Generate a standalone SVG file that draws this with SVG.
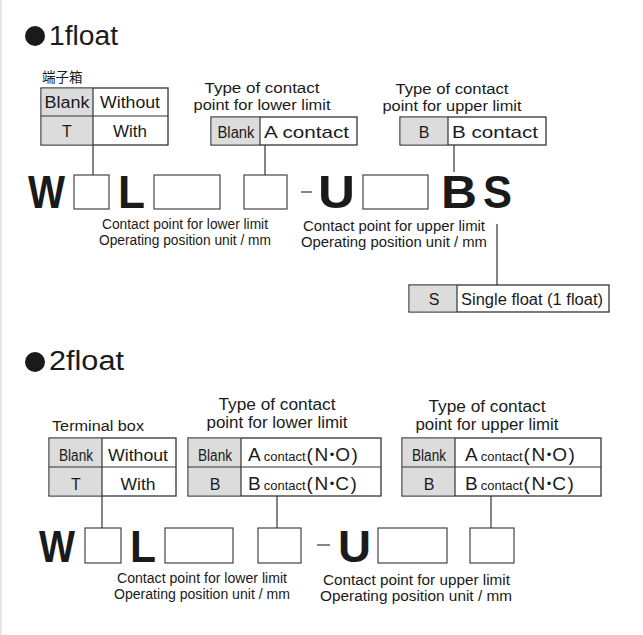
<svg xmlns="http://www.w3.org/2000/svg" width="643" height="635" viewBox="0 0 643 635">
<style>
text{font-family:"Liberation Sans",Arial,"Noto Sans CJK JP",sans-serif;fill:#1a1a1a}
.tb{fill:#fff;stroke:#333;stroke-width:1.3}
.gr{fill:#dcdcdc;stroke:none}
.ln{stroke:#333;stroke-width:1.2;fill:none}
.bx{fill:#fff;stroke:#444;stroke-width:1.2}
.title{font-size:27px}
.hd{font-size:15.5px;text-anchor:middle}
.hd2{font-size:16px;text-anchor:middle}
.cc{font-size:16px;text-anchor:middle}
.code{font-size:46px;font-weight:bold;fill:#1a1a1a}
.code2{font-size:45px;font-weight:bold;fill:#1a1a1a}
.note{font-size:14px}
.ct{font-size:19px}
.ct .s{font-size:13px}
.ct .p{letter-spacing:1.5px}
.ct .d{font-size:13px}
</style>
<line x1="1" y1="0" x2="1" y2="635" stroke="#e6e6e6" stroke-width="2"/>

<g id="title1">
<circle cx="35" cy="36" r="10" fill="#1a1a1a"/>
<text class="title" x="49" y="45" textLength="69" lengthAdjust="spacingAndGlyphs">1float</text>
</g>

<g id="terminal1">
<text x="42" y="82" font-size="13.5">端子箱</text>
<rect class="tb" x="41" y="88" width="127" height="57"/>
<rect class="gr" x="41.7" y="88.7" width="51.3" height="55.6"/>
<line class="ln" x1="93" y1="88" x2="93" y2="145"/>
<line class="ln" x1="41" y1="116" x2="168" y2="116"/>
<text class="cc" x="67" y="108" textLength="45" lengthAdjust="spacingAndGlyphs">Blank</text>
<text class="cc" x="130" y="108" textLength="60" lengthAdjust="spacingAndGlyphs">Without</text>
<text class="cc" x="67" y="137">T</text>
<text class="cc" x="130" y="137" textLength="34" lengthAdjust="spacingAndGlyphs">With</text>
</g>

<g id="lower1">
<text class="hd" x="262" y="93" textLength="115" lengthAdjust="spacingAndGlyphs">Type of contact</text>
<text class="hd" x="262" y="110" textLength="137" lengthAdjust="spacingAndGlyphs">point for lower limit</text>
<rect class="tb" x="211" y="117" width="146" height="28"/>
<rect class="gr" x="211.7" y="117.7" width="48.3" height="26.6"/>
<line class="ln" x1="260" y1="117" x2="260" y2="145"/>
<text class="cc" x="236" y="138" textLength="37" lengthAdjust="spacingAndGlyphs">Blank</text>
<text x="264" y="138" font-size="17" textLength="85" lengthAdjust="spacingAndGlyphs">A contact</text>
</g>

<g id="upper1">
<text class="hd" x="452" y="94" textLength="113" lengthAdjust="spacingAndGlyphs">Type of contact</text>
<text class="hd" x="452" y="111" textLength="139" lengthAdjust="spacingAndGlyphs">point for upper limit</text>
<rect class="tb" x="400" y="117" width="146" height="28"/>
<rect class="gr" x="400.7" y="117.7" width="47.3" height="26.6"/>
<line class="ln" x1="448" y1="117" x2="448" y2="145"/>
<text class="cc" x="424" y="138">B</text>
<text x="452" y="138" font-size="17" textLength="86" lengthAdjust="spacingAndGlyphs">B contact</text>
</g>

<g id="code1">
<text class="code" x="28" y="208" textLength="37" lengthAdjust="spacingAndGlyphs">W</text>
<rect class="bx" x="74" y="175" width="35" height="34"/>
<text class="code" x="118" y="208" textLength="27" lengthAdjust="spacingAndGlyphs">L</text>
<rect class="bx" x="154" y="175" width="66" height="34"/>
<rect class="bx" x="244" y="175" width="43" height="34"/>
<line class="ln" x1="301" y1="192" x2="312" y2="192"/>
<text class="code" x="318" y="208" textLength="37" lengthAdjust="spacingAndGlyphs">U</text>
<rect class="bx" x="363" y="175" width="65" height="34"/>
<text class="code" x="441" y="208" textLength="36" lengthAdjust="spacingAndGlyphs">B</text>
<text class="code" x="483" y="208" textLength="29" lengthAdjust="spacingAndGlyphs">S</text>
<text class="note" x="102" y="229" textLength="166" lengthAdjust="spacingAndGlyphs">Contact point for lower limit</text>
<text class="note" x="99" y="245" textLength="172" lengthAdjust="spacingAndGlyphs">Operating position unit / mm</text>
<text class="note" x="303" y="231" textLength="182" lengthAdjust="spacingAndGlyphs">Contact point for upper limit</text>
<text class="note" x="301" y="247" textLength="186" lengthAdjust="spacingAndGlyphs">Operating position unit / mm</text>
</g>

<g id="single1">
<rect class="tb" x="409" y="285" width="200" height="27"/>
<rect class="gr" x="409.7" y="285.7" width="47.3" height="25.6"/>
<line class="ln" x1="457" y1="285" x2="457" y2="312"/>
<text class="cc" x="434" y="305">S</text>
<text x="461" y="305" font-size="16" textLength="142" lengthAdjust="spacingAndGlyphs">Single float (1 float)</text>
</g>

<g id="title2">
<circle cx="35" cy="362" r="10" fill="#1a1a1a"/>
<text class="title" x="49" y="370" textLength="75" lengthAdjust="spacingAndGlyphs">2float</text>
</g>

<g id="terminal2">
<text x="52" y="431" font-size="14" textLength="92" lengthAdjust="spacingAndGlyphs">Terminal box</text>
<rect class="tb" x="49" y="438" width="127" height="58"/>
<rect class="gr" x="49.7" y="438.7" width="52.3" height="56.6"/>
<line class="ln" x1="102" y1="438" x2="102" y2="496"/>
<line class="ln" x1="49" y1="467" x2="176" y2="467"/>
<text class="cc" x="76" y="461" textLength="34" lengthAdjust="spacingAndGlyphs">Blank</text>
<text class="cc" x="138" y="461" style="font-size:17px" textLength="60" lengthAdjust="spacingAndGlyphs">Without</text>
<text class="cc" x="76" y="490">T</text>
<text class="cc" x="138" y="490" textLength="35" lengthAdjust="spacingAndGlyphs">With</text>
</g>

<g id="lower2">
<text class="hd2" x="277" y="410" textLength="117" lengthAdjust="spacingAndGlyphs">Type of contact</text>
<text class="hd2" x="277" y="428" textLength="141" lengthAdjust="spacingAndGlyphs">point for lower limit</text>
<rect class="tb" x="188" y="438" width="193" height="58"/>
<rect class="gr" x="188.7" y="438.7" width="52.3" height="56.6"/>
<line class="ln" x1="241" y1="438" x2="241" y2="496"/>
<line class="ln" x1="188" y1="467" x2="381" y2="467"/>
<text class="cc" x="215" y="461" textLength="34" lengthAdjust="spacingAndGlyphs">Blank</text>
<text class="cc" x="215" y="490">B</text>
<text class="ct" x="248" y="461">A<tspan class="s" dx="3">contact</tspan><tspan class="p" dx="1">(N</tspan><tspan class="d" dy="-2">•</tspan><tspan class="p" dy="2" dx="1">O)</tspan></text>
<text class="ct" x="248" y="490">B<tspan class="s" dx="3">contact</tspan><tspan class="p" dx="1">(N</tspan><tspan class="d" dy="-2">•</tspan><tspan class="p" dy="2" dx="1">C)</tspan></text>
</g>

<g id="upper2">
<text class="hd2" x="487" y="412" textLength="117" lengthAdjust="spacingAndGlyphs">Type of contact</text>
<text class="hd2" x="487" y="430" textLength="143" lengthAdjust="spacingAndGlyphs">point for upper limit</text>
<rect class="tb" x="402" y="438" width="199" height="58"/>
<rect class="gr" x="402.7" y="438.7" width="52.3" height="56.6"/>
<line class="ln" x1="455" y1="438" x2="455" y2="496"/>
<line class="ln" x1="402" y1="467" x2="601" y2="467"/>
<text class="cc" x="429" y="461" textLength="34" lengthAdjust="spacingAndGlyphs">Blank</text>
<text class="cc" x="429" y="490">B</text>
<text class="ct" x="465" y="461">A<tspan class="s" dx="3">contact</tspan><tspan class="p" dx="1">(N</tspan><tspan class="d" dy="-2">•</tspan><tspan class="p" dy="2" dx="1">O)</tspan></text>
<text class="ct" x="465" y="490">B<tspan class="s" dx="3">contact</tspan><tspan class="p" dx="1">(N</tspan><tspan class="d" dy="-2">•</tspan><tspan class="p" dy="2" dx="1">C)</tspan></text>
</g>

<g id="code2">
<text class="code2" x="39" y="562" textLength="36" lengthAdjust="spacingAndGlyphs">W</text>
<rect class="bx" x="85" y="528" width="36" height="35"/>
<text class="code2" x="130" y="562" textLength="26" lengthAdjust="spacingAndGlyphs">L</text>
<rect class="bx" x="165" y="528" width="68" height="35"/>
<rect class="bx" x="258" y="528" width="43" height="35"/>
<line class="ln" x1="317" y1="545" x2="330" y2="545"/>
<text class="code2" x="338" y="562" textLength="33" lengthAdjust="spacingAndGlyphs">U</text>
<rect class="bx" x="378" y="528" width="69" height="35"/>
<rect class="bx" x="470" y="528" width="44" height="35"/>
<text class="note" x="117" y="583" textLength="170" lengthAdjust="spacingAndGlyphs">Contact point for lower limit</text>
<text class="note" x="114" y="599" textLength="176" lengthAdjust="spacingAndGlyphs">Operating position unit / mm</text>
<text class="note" x="323" y="585" textLength="187" lengthAdjust="spacingAndGlyphs">Contact point for upper limit</text>
<text class="note" x="320" y="601" textLength="192" lengthAdjust="spacingAndGlyphs">Operating position unit / mm</text>
</g>

<g id="connectors">
<line class="ln" x1="93" y1="145" x2="93" y2="175"/>
<line class="ln" x1="265" y1="145" x2="265" y2="175"/>
<line class="ln" x1="454" y1="145" x2="454" y2="172"/>
<line class="ln" x1="497" y1="224" x2="497" y2="285"/>
<line class="ln" x1="102" y1="496" x2="102" y2="528"/>
<line class="ln" x1="277" y1="496" x2="277" y2="528"/>
<line class="ln" x1="491" y1="496" x2="491" y2="528"/>
</g>
</svg>
